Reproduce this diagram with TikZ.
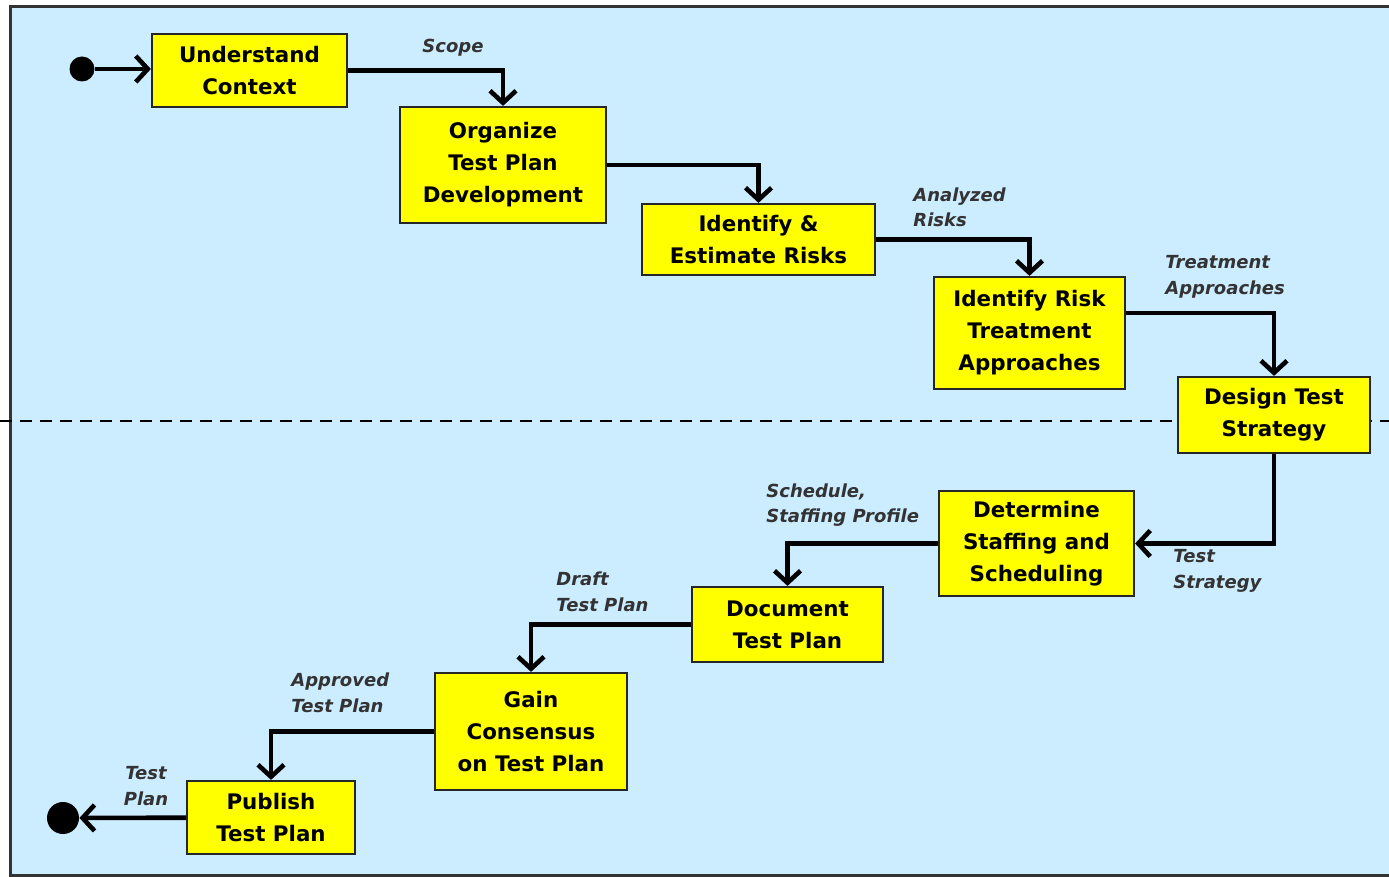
\documentclass[tikz,border=0pt]{standalone}
\usepackage{fontspec}
\setmainfont{DejaVu Sans}[
  BoldFont={DejaVu Sans Bold},
  ItalicFont={DejaVu Sans Oblique},
  BoldItalicFont={DejaVu Sans Bold Oblique}]
\usetikzlibrary{arrows.meta}
\definecolor{panelblue}{HTML}{CCECFF}
\definecolor{boxyellow}{HTML}{FFFF00}
\tikzset{
  VertexStyle/.style = { rectangle, draw=black!85, line width=1.1pt,
                         fill=boxyellow, align=center, inner sep=2pt,
                         font = \bfseries\fontsize{10.7}{16}\selectfont },
  EdgeStyle/.style = { line width=2.3pt,
                       -{Straight Barb[length=6pt,width=13pt]} },
  LabelStyle/.style = { align=left, inner sep=0pt, text=black!80,
                        font = \bfseries\itshape\fontsize{9}{12.75}\selectfont },
  DotStyle/.style = { circle, fill=black, inner sep=0pt } }

\begin{document}
\begin{tikzpicture}[x=0.5pt,y=-0.5pt]
  \useasboundingbox (0,0) rectangle (1389,877);
  \fill[panelblue] (10,7) rectangle (1400,875);
  \draw[line width=1.5pt, black!80] (1400,7) -- (10,7) -- (10,875) -- (1400,875);
  \draw[line width=1pt, dash pattern=on 6pt off 4pt] (0,421) -- (1389,421);

  \node[DotStyle, minimum size=12.5pt] (start) at (82,69) {};
  \node[DotStyle, minimum size=16pt] (stop) at (63,818) {};

  \node[VertexStyle, minimum width=97.5pt, minimum height=36.5pt] (uc)  at (249.5,70.5) {Understand\\Context};
  \node[VertexStyle, minimum width=103pt,  minimum height=58pt]   (otp) at (503,165)    {Organize\\Test Plan\\Development};
  \node[VertexStyle, minimum width=116.5pt,minimum height=35.5pt] (ier) at (758.5,239.5) {Identify \&\\Estimate Risks};
  \node[VertexStyle, minimum width=95.5pt, minimum height=56pt]   (irt) at (1029.5,333) {Identify Risk\\Treatment\\Approaches};
  \node[VertexStyle, minimum width=96pt,   minimum height=38pt]   (dts) at (1274,415)   {Design Test\\Strategy};
  \node[VertexStyle, minimum width=97.5pt, minimum height=52.5pt] (dss) at (1036.5,543.5) {Determine\\Staffing and\\Scheduling};
  \node[VertexStyle, minimum width=95.5pt, minimum height=37.5pt] (dtp) at (787.5,624.5) {Document\\Test Plan};
  \node[VertexStyle, minimum width=96pt,   minimum height=58.5pt] (gcp) at (531,731.5)   {Gain\\Consensus\\on Test Plan};
  \node[VertexStyle, minimum width=84pt,   minimum height=36.5pt] (ptp) at (271,817.5)   {Publish\\Test Plan};

  \node[LabelStyle] (lScope) at (453,48) {Scope};
  \node[LabelStyle, anchor=west] (lRisks) at (913,207.5) {Analyzed\\Risks};
  \node[LabelStyle, anchor=west] (lTreat) at (1165,277) {Treatment\\Approaches};
  \node[LabelStyle, anchor=west] (lStrat) at (1173,571) {Test\\Strategy};
  \node[LabelStyle, anchor=west] (lSched) at (766,505) {Schedule,\\Staffing Profile};
  \node[LabelStyle, anchor=west] (lDraft) at (556,592) {Draft\\Test Plan};
  \node[LabelStyle, anchor=west] (lAppr) at (291,693) {Approved\\Test Plan};
  \node[LabelStyle, align=center] (lPlan) at (146,786) {Test\\Plan};

  \draw[EdgeStyle] (start) -- (start -| uc.west);
  \draw[EdgeStyle] (uc) -| (otp);
  \draw[EdgeStyle] (otp) -| (ier);
  \draw[EdgeStyle] (ier) -| (irt);
  \draw[EdgeStyle] ([yshift=10pt]irt.east) -| (dts);
  \draw[EdgeStyle] (dts) |- (dss);
  \draw[EdgeStyle] (dss) -| (dtp);
  \draw[EdgeStyle] (dtp) -| (gcp);
  \draw[EdgeStyle] (gcp) -| (ptp);
  \draw[EdgeStyle] (ptp) -- (stop);
\end{tikzpicture}
\end{document}
